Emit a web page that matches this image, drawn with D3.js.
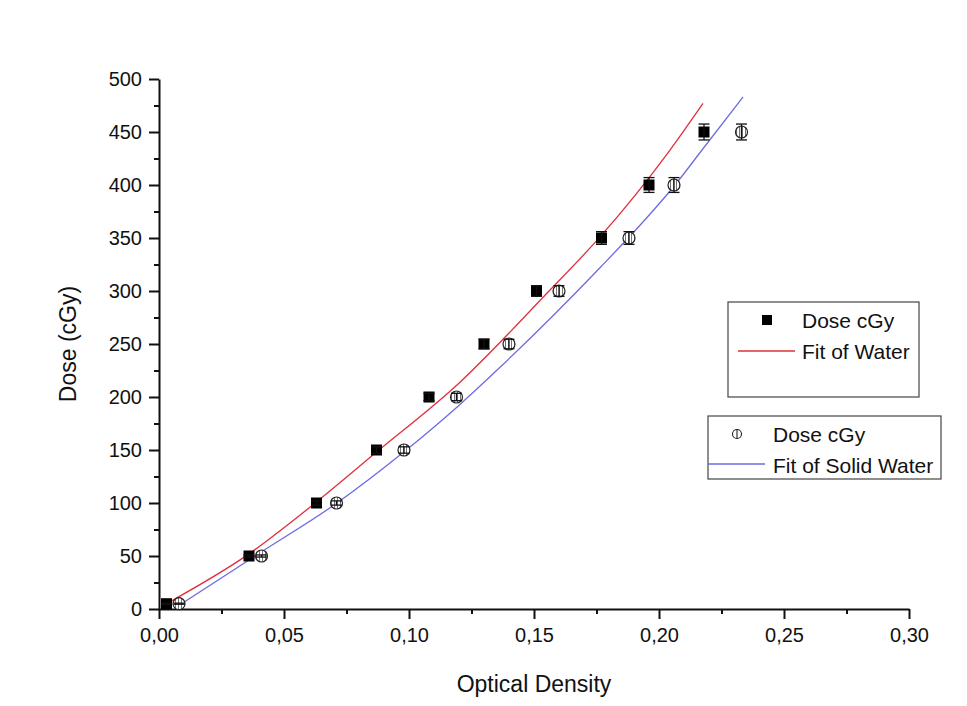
<!DOCTYPE html>
<html>
<head>
<meta charset="utf-8">
<script src="https://cdn.jsdelivr.net/npm/d3@7"></script>
<style>
  body { margin: 0; background: #fff; }
  svg text { font-family: "Liberation Sans", Arial, sans-serif; fill: #111; }
</style>
</head>
<body>
<figure id="doseChart" style="margin:0"></figure>
<script>
// data
var waterOD    = [0.003, 0.036, 0.063, 0.087, 0.108, 0.130, 0.151, 0.177, 0.196, 0.218];
var waterDose  = [5, 50, 100, 150, 200, 250, 300, 350, 400, 450];
var waterErr   = [0.5, 1, 2, 3, 3.5, 4.5, 5, 6, 7, 7.5];

var solidOD    = [0.008, 0.041, 0.071, 0.098, 0.119, 0.140, 0.160, 0.188, 0.206, 0.233];
var solidDose  = [5, 50, 100, 150, 200, 250, 300, 350, 400, 450];
var solidErr   = [0.5, 1, 2, 3, 3.5, 4.5, 5, 6, 7, 7.5];

// fitted curves
var waterFitOD   = [0.003, 0.036, 0.063, 0.087, 0.1204, 0.1544, 0.1764, 0.2044, 0.2176];
var waterFitDose = [5, 52, 101, 148, 214, 296, 351, 433, 477];
var solidFitOD   = [0.0084, 0.0404, 0.0712, 0.0984, 0.1204, 0.1364, 0.1764, 0.1924, 0.2064, 0.2172, 0.2336];
var solidFitDose = [4, 53, 100, 149, 193, 228, 322, 362, 400, 433, 483];

var xTicks = [0, 0.05, 0.10, 0.15, 0.20, 0.25, 0.30];
var yTicks = [0, 50, 100, 150, 200, 250, 300, 350, 400, 450, 500];

var margin = {top: 79, right: 58, bottom: 97, left: 159},
  width = 967 - margin.left - margin.right,
  height = 706 - margin.top - margin.bottom;

var root = d3.select("figure#doseChart")
  .append("svg")
    .attr("width", 967)
    .attr("height", 706);

// hatch for the open circles
var defs = root.append("defs");
var pat = defs.append("pattern")
  .attr("id", "hatch")
  .attr("patternUnits", "userSpaceOnUse")
  .attr("width", 3).attr("height", 3);
pat.append("rect").attr("width", 3).attr("height", 3).attr("fill", "#fff");
pat.append("line").attr("x1", 1.5).attr("x2", 1.5).attr("y1", 0).attr("y2", 3)
  .attr("stroke", "#666").attr("stroke-width", 0.9);

var svg = root.append("g")
  .attr("transform", "translate(" + margin.left + "," + margin.top + ")");

var x = d3.scaleLinear().domain([0, 0.30]).range([0, width]);
var y = d3.scaleLinear().domain([0, 500]).range([height, 0]);

var fmtX = function(d) { return d3.format(".2f")(d).replace(".", ","); };

// minor ticks first, major on top
svg.append("g")
  .attr("transform", "translate(0," + height + ")")
  .call(d3.axisBottom(x).tickValues(d3.range(0.025, 0.30, 0.05)).tickSize(5).tickFormat(""))
  .call(g => g.select(".domain").remove());
svg.append("g")
  .call(d3.axisLeft(y).tickValues(d3.range(25, 500, 50)).tickSize(5).tickFormat(""))
  .call(g => g.select(".domain").remove());

var xAxis = svg.append("g")
  .attr("transform", "translate(0," + height + ")")
  .call(d3.axisBottom(x).tickValues(xTicks).tickSize(10).tickSizeOuter(0).tickPadding(9).tickFormat(fmtX));
var yAxis = svg.append("g")
  .call(d3.axisLeft(y).tickValues(yTicks).tickSize(10).tickSizeOuter(0).tickPadding(7));

root.selectAll(".tick line, .domain").attr("stroke", "#111").attr("stroke-width", 2);
xAxis.selectAll("text").style("font-size", "20px");
yAxis.selectAll("text").style("font-size", "20px");

// axis titles
svg.append("text")
  .attr("x", width / 2)
  .attr("y", height + 83)
  .attr("text-anchor", "middle")
  .style("font-size", "23px")
  .text("Optical Density");
svg.append("text")
  .attr("transform", "translate(-83," + (height / 2) + ") rotate(-90)")
  .attr("text-anchor", "middle")
  .style("font-size", "23px")
  .text("Dose (cGy)");

// fit curves
var line = d3.line()
  .x(d => x(d[0]))
  .y(d => y(d[1]))
  .curve(d3.curveMonotoneX);

svg.append("path")
  .datum(d3.zip(waterFitOD, waterFitDose))
  .attr("d", line)
  .attr("fill", "none")
  .attr("stroke", "#e0303a")
  .attr("stroke-width", 1.3);
svg.append("path")
  .datum(d3.zip(solidFitOD, solidFitDose))
  .attr("d", line)
  .attr("fill", "none")
  .attr("stroke", "#6c6ce0")
  .attr("stroke-width", 1.3);

// error bars
function errBars(od, dose, err) {
  var g = svg.append("g").attr("stroke", "#111").attr("stroke-width", 1.3);
  var data = d3.zip(od, dose, err);
  g.selectAll(".v").data(data).enter().append("line")
    .attr("x1", d => x(d[0])).attr("x2", d => x(d[0]))
    .attr("y1", d => y(d[1] - d[2])).attr("y2", d => y(d[1] + d[2]));
  g.selectAll(".t").data(data).enter().append("line")
    .attr("x1", d => x(d[0]) - 5.5).attr("x2", d => x(d[0]) + 5.5)
    .attr("y1", d => y(d[1] + d[2])).attr("y2", d => y(d[1] + d[2]));
  g.selectAll(".b").data(data).enter().append("line")
    .attr("x1", d => x(d[0]) - 5.5).attr("x2", d => x(d[0]) + 5.5)
    .attr("y1", d => y(d[1] - d[2])).attr("y2", d => y(d[1] - d[2]));
}

// circles (solid water)
svg.selectAll(".circ")
  .data(d3.zip(solidOD, solidDose))
  .enter()
  .append("circle")
    .attr("cx", d => x(d[0]))
    .attr("cy", d => y(d[1]))
    .attr("r", 6)
    .attr("fill", "url(#hatch)")
    .attr("stroke", "#222")
    .attr("stroke-width", 1.2);
errBars(solidOD, solidDose, solidErr);

// squares (water)
svg.selectAll(".sq")
  .data(d3.zip(waterOD, waterDose))
  .enter()
  .append("rect")
    .attr("x", d => x(d[0]) - 5.5)
    .attr("y", d => y(d[1]) - 5.5)
    .attr("width", 11)
    .attr("height", 11)
    .attr("fill", "#000");
errBars(waterOD, waterDose, waterErr);

// legends
var leg1 = root.append("g");
leg1.append("rect").attr("x", 728).attr("y", 302).attr("width", 191).attr("height", 95)
  .attr("fill", "#fff").attr("stroke", "#444").attr("stroke-width", 1.2);
leg1.append("rect").attr("x", 762).attr("y", 315).attr("width", 10).attr("height", 10).attr("fill", "#000");
leg1.append("text").attr("x", 802).attr("y", 328).style("font-size", "21px").text("Dose cGy");
leg1.append("line").attr("x1", 738).attr("x2", 795).attr("y1", 351).attr("y2", 351)
  .attr("stroke", "#e0303a").attr("stroke-width", 1.3);
leg1.append("text").attr("x", 802).attr("y", 359).style("font-size", "21px").text("Fit of Water");

var leg2 = root.append("g");
leg2.append("rect").attr("x", 708).attr("y", 416).attr("width", 233).attr("height", 63)
  .attr("fill", "#fff").attr("stroke", "#444").attr("stroke-width", 1.2);
leg2.append("circle").attr("cx", 737).attr("cy", 434).attr("r", 4.5)
  .attr("fill", "#fff").attr("stroke", "#222").attr("stroke-width", 1.1);
leg2.append("line").attr("x1", 737).attr("x2", 737).attr("y1", 429.5).attr("y2", 438.5)
  .attr("stroke", "#222").attr("stroke-width", 1.1);
leg2.append("text").attr("x", 773).attr("y", 442).style("font-size", "21px").text("Dose cGy");
leg2.append("line").attr("x1", 708).attr("x2", 765).attr("y1", 464).attr("y2", 464)
  .attr("stroke", "#6c6ce0").attr("stroke-width", 1.3);
leg2.append("text").attr("x", 773).attr("y", 473).style("font-size", "21px").text("Fit of Solid Water");
</script>
</body>
</html>
